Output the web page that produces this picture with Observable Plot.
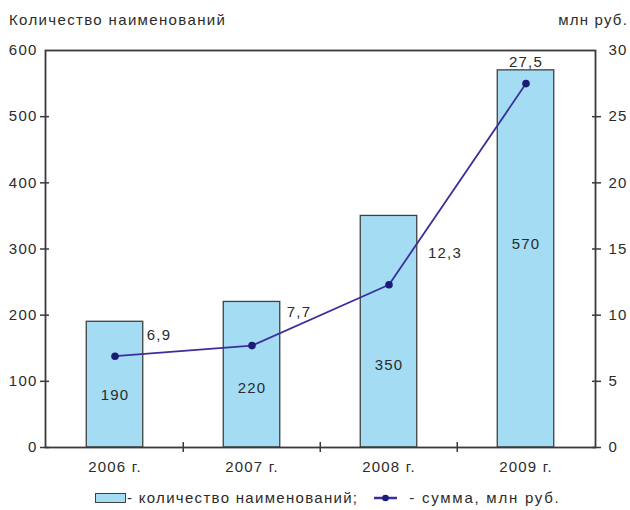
<!DOCTYPE html>
<html>
<head>
<meta charset="utf-8">
<script src="https://cdn.jsdelivr.net/npm/d3@7"></script>
<script src="https://cdn.jsdelivr.net/npm/@observablehq/plot@0.6"></script>
<style>
  html, body { margin: 0; padding: 0; background: #fff; }
  #wrap { position: relative; width: 630px; height: 510px; font-family: "Liberation Sans", Arial, sans-serif; color: #2b2b2b; font-size: 15px; letter-spacing: 1.2px; }
  #wrap svg { position: absolute; left: 0; top: 0; }
  .abs { position: absolute; white-space: nowrap; }
</style>
</head>
<body>
<div id="wrap">
  <div class="abs" style="left:9px; top:11px; letter-spacing:1.35px;">Количество наименований</div>
  <div class="abs" style="right:2px; top:11px;">млн руб.</div>
  <div id="chart"></div>
  <div class="abs" id="legend" style="left:95px; top:489px; display:flex; align-items:center;">
    <span style="display:inline-block; width:29px; height:8px; background:#a4dcf4; border:1.3px solid #404040;"></span>
    <span style="margin-left:1px; letter-spacing:1.3px;">- количество наименований;</span>
    <svg width="23" height="10" style="position:static; margin-left:16px;">
      <line x1="0" y1="5" x2="23" y2="5" stroke="#3b2f9b" stroke-width="2.5"/>
      <circle cx="11.5" cy="5" r="3.3" fill="#1d1a78"/>
    </svg>
    <span style="margin-left:12px; letter-spacing:1.75px;">- сумма, млн руб.</span>
  </div>
</div>
<script>
const years = ["2006 г.", "2007 г.", "2008 г.", "2009 г."];
const counts = [190, 220, 350, 570];
const sums = [6.9, 7.7, 12.3, 27.5];
const leftTicks = [0, 100, 200, 300, 400, 500, 600];
const rightTickLabels = [0, 5, 10, 15, 20, 25, 30];

const ratio = 600 / 30; // right axis -> left axis units
const rows = years.map((y, i) => ({year: y, count: counts[i], sum: sums[i], sumScaled: sums[i] * ratio}));

// layout: where each bar's value label sits (fraction of bar height)
const barLabelFrac = [0.42, 0.41, 0.355, 0.54];
// layout: offsets of the line value labels from their points
const lineLabelOffsets = [[44, -21], [47, -33], [56, -32], [0, -21]];

const fmt = v => String(v).replace(".", ",");
const ink = "#2b2b2b";
const axisInk = "#3a3a3a";

const W = 630, H = 485;
const mL = 45, mR = 35, mT = 50, mB = 38;
const step = (W - mL - mR) / years.length;

const chart = Plot.plot({
  width: W,
  height: H,
  marginLeft: mL,
  marginRight: mR,
  marginTop: mT,
  marginBottom: mB,
  style: {fontFamily: "'Liberation Sans', Arial, sans-serif", fontSize: "15px", color: ink, background: "transparent", letterSpacing: "1.2px"},
  x: {domain: years, padding: 0, label: null},
  y: {domain: [0, 600], label: null},
  marks: [
    Plot.barY(rows, {x: "year", y: "count", fill: "#a4dcf4", stroke: "#404040", strokeWidth: 1.3, insetLeft: (step - 57) / 2, insetRight: (step - 57) / 2}),
    Plot.frame({stroke: axisInk, strokeWidth: 1.8}),
    // left axis: labels and crossing ticks
    Plot.axisY({anchor: "left", ticks: leftTicks, tickSize: 0, tickPadding: 8, fill: ink, label: null}),
    Plot.axisY({anchor: "left", ticks: leftTicks.slice(0, -1), tickSize: 9, dx: 4, text: null, stroke: axisInk, strokeWidth: 1.5}),
    // right axis
    Plot.axisY({anchor: "right", ticks: leftTicks, tickSize: 0, tickPadding: 13, tickFormat: d => String(d / ratio), fill: ink, label: null}),
    Plot.axisY({anchor: "right", ticks: leftTicks.slice(0, -1), tickSize: 9, dx: -4, text: null, stroke: axisInk, strokeWidth: 1.5}),
    // x axis labels and boundary ticks
    Plot.axisX({tickSize: 0, tickPadding: 14, fill: ink, label: null}),
    Plot.axisX({ticks: years.slice(1), tickSize: 10, dy: -5, dx: -step / 2, text: null, stroke: axisInk, strokeWidth: 1.5}),
    // bar value labels
    Plot.text(rows, {x: "year", y: (d, i) => d.count * barLabelFrac[i], text: d => String(d.count), fill: ink, fontSize: 15}),
    // line
    Plot.line(rows, {x: "year", y: "sumScaled", stroke: "#3b2f9b", strokeWidth: 1.8}),
    Plot.dot(rows, {x: "year", y: "sumScaled", r: 3.8, fill: "#1d1a78", stroke: "none"}),
    ...rows.map((d, i) => Plot.text([d], {x: "year", y: "sumScaled", text: r => fmt(r.sum), dx: lineLabelOffsets[i][0], dy: lineLabelOffsets[i][1], fill: ink, fontSize: 15}))
  ]
});
document.getElementById("chart").appendChild(chart);
</script>
</body>
</html>
